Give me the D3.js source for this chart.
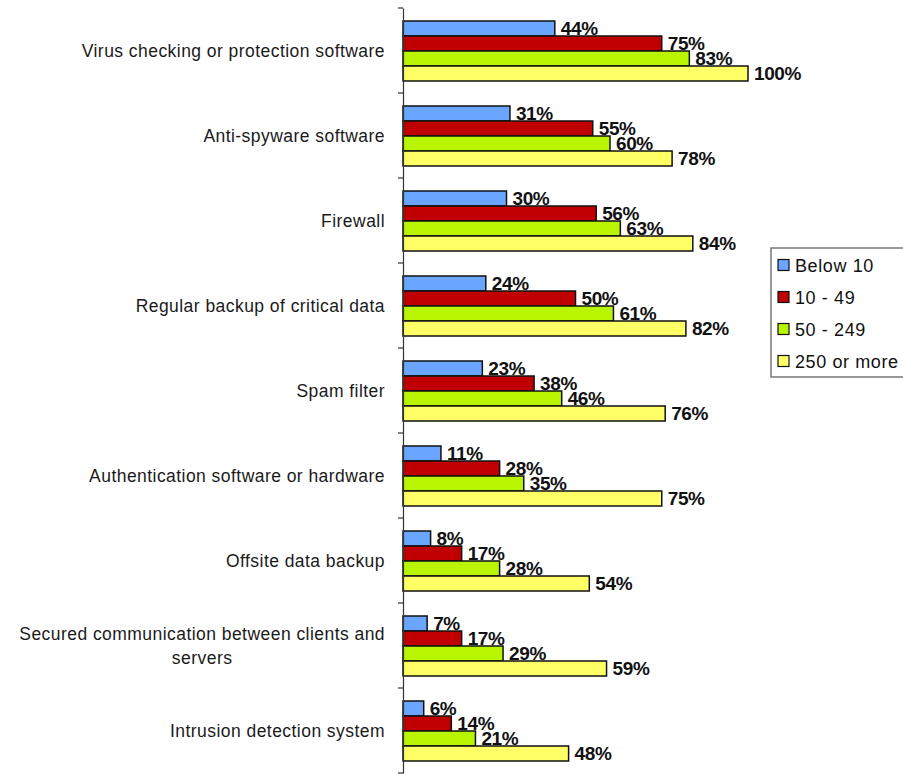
<!DOCTYPE html>
<html>
<head>
<meta charset="utf-8">
<script src="https://cdn.jsdelivr.net/npm/d3@7"></script>
<style>
  html, body { margin: 0; padding: 0; background: #fff; }
  svg { display: block; font-family: "Liberation Sans", Arial, Helvetica, sans-serif; }
</style>
</head>
<body>
<svg id="chart" width="903" height="775"></svg>
<script>
// Security measures in use, by enterprise size (share of enterprises, %)
const categories = [
  "Virus checking or protection software",
  "Anti-spyware software",
  "Firewall",
  "Regular backup of critical data",
  "Spam filter",
  "Authentication software or hardware",
  "Offsite data backup",
  "Secured communication between clients and servers",
  "Intrusion detection system"
];
const seriesNames = ["Below 10", "10 - 49", "50 - 249", "250 or more"];
const below10   = [44, 31, 30, 24, 23, 11, 8, 7, 6];
const from10to49  = [75, 55, 56, 50, 38, 28, 17, 17, 14];
const from50to249 = [83, 60, 63, 61, 46, 35, 28, 29, 21];
const from250     = [100, 78, 84, 82, 76, 75, 54, 59, 48];
const seriesValues = [below10, from10to49, from50to249, from250];
const seriesColors = ["#6aa6ff", "#c00000", "#b9f400", "#ffff66"];

const svg = d3.select("#chart");

const axisX = 403, plotTop = 8, plotBottom = 773;
const x = d3.scaleLinear().domain([0, 100]).range([axisX, 748]);
const y0 = d3.scaleBand().domain(categories).range([plotTop, plotBottom]).padding(0);
const y1 = d3.scaleBand().domain(seriesNames).range([13, 73]).padding(0);

// bars
const groups = svg.append("g").selectAll("g")
  .data(categories)
  .join("g")
  .attr("transform", d => `translate(0,${y0(d)})`);

groups.each(function(cat, ci) {
  const g = d3.select(this);
  const rows = seriesNames.map((s, si) => ({ s, si, v: seriesValues[si][ci] }));
  g.selectAll("rect")
    .data(rows)
    .join("rect")
    .attr("x", x(0))
    .attr("y", d => y1(d.s))
    .attr("width", d => x(d.v) - x(0))
    .attr("height", y1.bandwidth())
    .attr("fill", d => seriesColors[d.si])
    .attr("stroke", "#111")
    .attr("stroke-width", 1.5);
  g.selectAll("text")
    .data(rows)
    .join("text")
    .attr("x", d => x(d.v) + 6)
    .attr("y", d => y1(d.s) + y1.bandwidth() / 2 + 6.5)
    .attr("font-size", 19)
    .attr("font-weight", "bold")
    .attr("letter-spacing", "-0.4")
    .attr("fill", "#111")
    .text(d => d.v + "%");
});

// category axis on the left
const axis = d3.axisLeft(y0).tickSize(0).tickFormat("");
const axisG = svg.append("g").attr("transform", `translate(${axisX},0)`).call(axis);
axisG.select(".domain").attr("stroke", "#333").attr("stroke-width", 1.2);
const boundaries = d3.range(categories.length + 1).map(i => plotTop + i * y0.step());
axisG.selectAll(".bound")
  .data(boundaries)
  .join("line")
  .attr("class", "bound")
  .attr("x1", -5).attr("x2", 0)
  .attr("y1", d => d).attr("y2", d => d)
  .attr("stroke", "#333").attr("stroke-width", 1.2);

// category labels, wrapped and centred within a right-aligned block
const labelRight = 385, maxWidth = 386, lineGap = 24;
const labelSize = 17.5, labelSpacing = "0.45";
const labelG = svg.append("g");
categories.forEach(cat => {
  const cy = y0(cat) + y0.bandwidth() / 2;
  const probe = labelG.append("text")
    .attr("font-size", labelSize).attr("letter-spacing", labelSpacing);
  const words = cat.split(" ");
  const lines = [];
  let line = [];
  words.forEach(w => {
    line.push(w);
    probe.text(line.join(" "));
    if (probe.node().getComputedTextLength() > maxWidth && line.length > 1) {
      line.pop();
      lines.push(line.join(" "));
      line = [w];
    }
  });
  lines.push(line.join(" "));
  const widths = lines.map(l => { probe.text(l); return probe.node().getComputedTextLength(); });
  probe.remove();
  const blockW = d3.max(widths);
  const cx = labelRight - blockW / 2;
  const firstBase = cy + 6 - (lines.length - 1) * lineGap / 2;
  lines.forEach((l, i) => {
    labelG.append("text")
      .attr("x", cx)
      .attr("y", firstBase + i * lineGap)
      .attr("text-anchor", "middle")
      .attr("font-size", labelSize)
      .attr("letter-spacing", labelSpacing)
      .attr("fill", "#1a1a1a")
      .text(l);
  });
});

// legend
const legend = svg.append("g").attr("transform", "translate(771,248)");
legend.append("rect")
  .attr("x", 0).attr("y", 0)
  .attr("width", 140).attr("height", 129)
  .attr("fill", "#fff")
  .attr("stroke", "#777")
  .attr("stroke-width", 1.5);
const items = legend.selectAll("g.item")
  .data(seriesNames)
  .join("g")
  .attr("class", "item")
  .attr("transform", (d, i) => `translate(7,${17 + i * 32})`);
items.append("rect")
  .attr("x", 0).attr("y", -5.5)
  .attr("width", 11).attr("height", 11)
  .attr("fill", (d, i) => seriesColors[i])
  .attr("stroke", "#111").attr("stroke-width", 1.2);
items.append("text")
  .attr("x", 17).attr("y", 6.5)
  .attr("font-size", 18)
  .attr("letter-spacing", "0.6")
  .attr("fill", "#111")
  .text(d => d);
</script>
</body>
</html>
